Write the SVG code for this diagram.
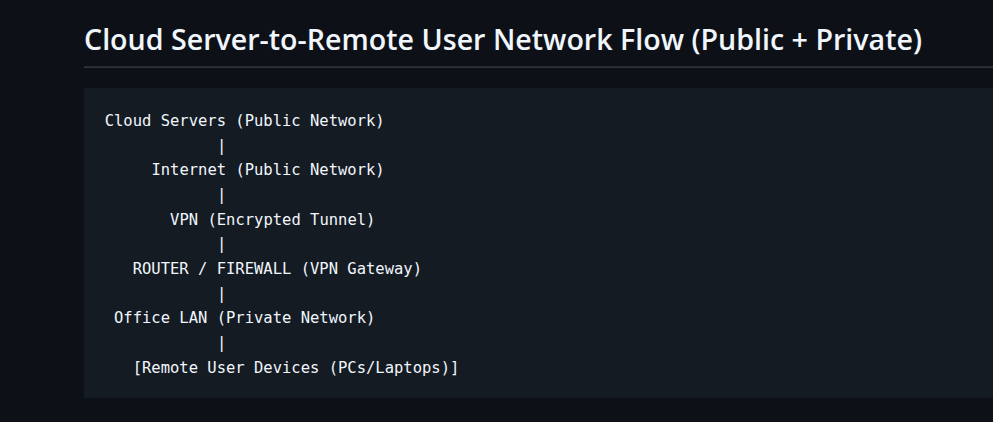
<svg xmlns="http://www.w3.org/2000/svg" width="993" height="422" viewBox="0 0 993 422">
<style>
.h{font-family:"Segoe UI","Open Sans","Noto Sans","Liberation Sans",sans-serif;font-weight:600;font-size:29px;fill:#f0f6fc}
.c{font-family:"DejaVu Sans Mono","Liberation Mono",monospace;font-size:15.5px;fill:#f0f6fc}
</style>
<rect width="993" height="422" fill="#0d1117"/>
<text class="h" x="84" y="50" textLength="838" lengthAdjust="spacingAndGlyphs">Cloud Server-to-Remote User Network Flow (Public + Private)</text>
<rect x="84" y="66.5" width="909" height="1.2" fill="#3d444d"/>
<rect x="84" y="88" width="909" height="310" fill="#151b23"/>
<g id="cloud-servers"><text class="c" x="104.7" y="126">Cloud Servers (Public Network)</text></g>
<g id="internet"><text class="c" x="151.4" y="175.3">Internet (Public Network)</text></g>
<g id="vpn"><text class="c" x="170.1" y="224.6">VPN (Encrypted Tunnel)</text></g>
<g id="router-firewall"><text class="c" x="132.7" y="273.9">ROUTER / FIREWALL (VPN Gateway)</text></g>
<g id="office-lan"><text class="c" x="114" y="323.2">Office LAN (Private Network)</text></g>
<g id="remote-devices"><text class="c" x="132.7" y="372.5">[Remote User Devices (PCs/Laptops)]</text></g>
<g id="connectors">
<text class="c" x="216.9" y="150.65">|</text>
<text class="c" x="216.9" y="199.95">|</text>
<text class="c" x="216.9" y="249.25">|</text>
<text class="c" x="216.9" y="298.55">|</text>
<text class="c" x="216.9" y="347.85">|</text>
</g>
</svg>
